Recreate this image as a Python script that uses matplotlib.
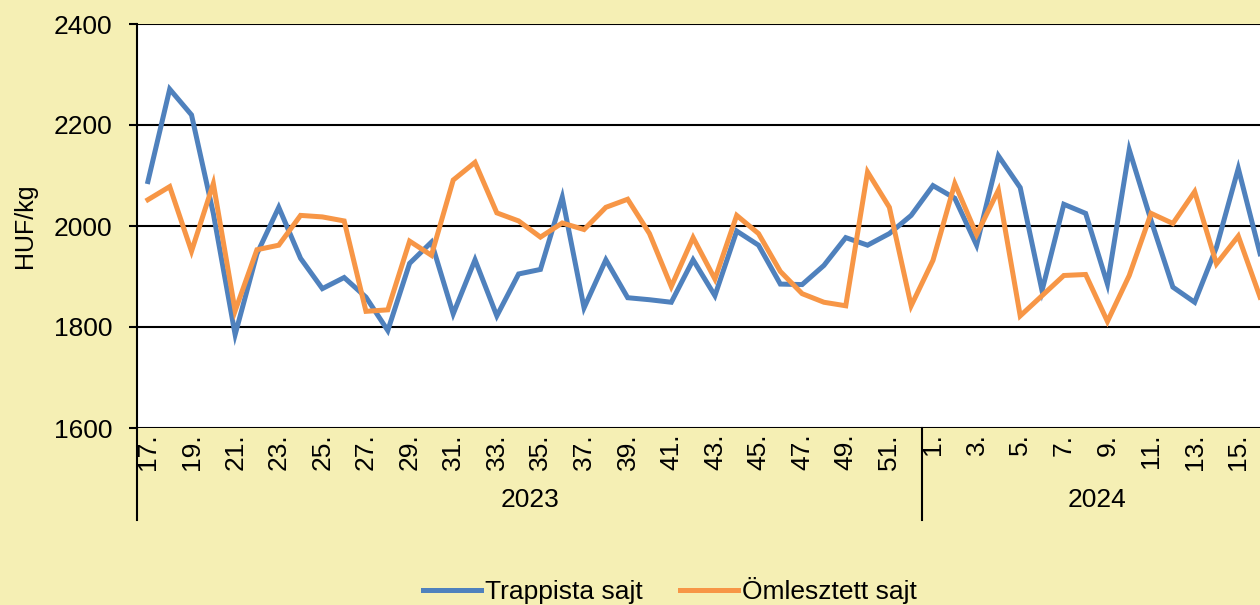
import numpy as np
import matplotlib
matplotlib.use("Agg")
from matplotlib import pyplot as plt
import matplotlib.transforms as mtransforms

# weekly prices, week 17 of 2023 to week 16 of 2024
weeks = list(range(17, 53)) + list(range(1, 17))
years = ["2023", "2024"]
year_len = [36, 16]

trappista = [2088, 2271, 2220, 2025, 1785, 1945, 2037, 1936, 1876, 1898, 1859, 1793, 1926,
             1968, 1826, 1933, 1822, 1905, 1914, 2057, 1838, 1933, 1858, 1854, 1849, 1933,
             1862, 1990, 1962, 1885, 1884, 1922, 1977, 1962, 1985, 2021, 2080, 2055, 1962,
             2139, 2076, 1872, 2043, 2025, 1885, 2151, 2011, 1879, 1849, 1958, 2114, 1945]
omlesztett = [2052, 2078, 1950, 2084, 1832, 1953, 1962, 2021, 2018, 2010, 1831, 1834, 1970,
              1942, 2091, 2126, 2026, 2010, 1978, 2006, 1993, 2037, 2053, 1985, 1880, 1977,
              1895, 2021, 1985, 1910, 1866, 1849, 1842, 2107, 2037, 1842, 1932, 2084, 1983,
              2071, 1822, 1862, 1902, 1904, 1811, 1902, 2025, 2005, 2068, 1925, 1980, 1859]

bg = "#F5EFB4"
fs = 19
plt.rcParams['font.family'] = ['Liberation Sans', 'DejaVu Sans']

fig = plt.figure(figsize=(12.6, 6.05), dpi=100)
fig.patch.set_facecolor(bg)
# axes runs a little past the right edge, like the cropped original
ax = fig.add_axes([137/1260, 1-428/605, 1134/1260, 404/605])
ax.set_facecolor("white")

x = np.arange(len(weeks))
ax.plot(x, trappista, color="#4F81BD", lw=3.6, label="Trappista sajt", solid_joinstyle="miter")
ax.plot(x, omlesztett, color="#F79646", lw=3.6, label="Ömlesztett sajt", solid_joinstyle="miter")

ax.set_xlim(-0.5, len(weeks) - 0.5)
ax.set_ylim(1600, 2400)
ax.set_yticks([1600, 1800, 2000, 2200, 2400])
ax.grid(axis="y", color="black", lw=1.5)
ax.set_axisbelow(True)
for s in ["top", "right", "bottom"]:
    ax.spines[s].set_visible(False)
ax.spines["left"].set_linewidth(1.5)
ax.tick_params(axis="y", labelsize=fs, length=6, width=1.5, pad=12)
ax.set_ylabel("HUF/kg", fontsize=18, labelpad=12)

ax.set_xticks(x[::2])
ax.set_xticklabels([f"{w}." for w in weeks[::2]], rotation=90, fontsize=fs, va="top")
ax.tick_params(axis="x", length=0, pad=4)

# year group labels and separators under the axis
trans = mtransforms.blended_transform_factory(ax.transData, ax.transAxes)
start = 0
for yr, n in zip(years, year_len):
    ax.text(start + (n - 1) / 2, -0.178, yr, transform=trans, ha="center", va="center", fontsize=fs)
    ax.plot([start - 0.5, start - 0.5], [0, -0.228], transform=trans, color="black", lw=1.5, clip_on=False)
    start += n

leg = fig.legend(loc="center", bbox_to_anchor=(670/1260, 0.024), ncol=2, frameon=False,
                 fontsize=fs, handlelength=2.2, handletextpad=0.15, columnspacing=1.4)

fig.savefig("out.png", dpi=100, facecolor=bg)
